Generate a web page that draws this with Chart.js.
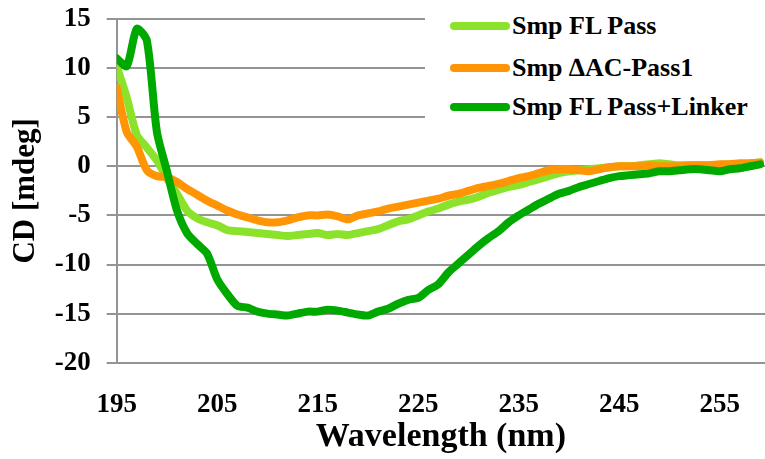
<!DOCTYPE html>
<html>
<head>
<meta charset="utf-8">
<script src="https://cdn.jsdelivr.net/npm/chart.js@4"></script>
<style>
  body { margin: 0; background: #fff; }
  #wrap { position: relative; width: 765px; height: 459px; }
  #legend { position: absolute; left: 425px; top: 6px; width: 340px; height: 120px; background: #fff; }
  .item { position: absolute; left: 25px; height: 30px; font-family: "Liberation Serif", "Times New Roman", Times, serif; font-weight: bold; font-size: 26px; color: #000; }
  .item span.sw { position: absolute; left: 0; top: 11px; width: 60px; height: 8px; border-radius: 4px; }
  .item span.lb { position: absolute; left: 62px; top: 0; line-height: 30px; white-space: nowrap; }
</style>
</head>
<body>
<div id="wrap">
  <canvas id="chart" width="765" height="459"></canvas>
  <div id="legend"></div>
</div>
<script>
// wavelength in nm, 1 nm steps
const wavelengths = [];
for (let w = 195; w <= 259; w++) wavelengths.push(w);

const seriesNames = ["Smp FL Pass", "Smp \u2206AC-Pass1", "Smp FL Pass+Linker"];
const seriesColors = ["#8be22a", "#ff9505", "#00a900"];

// CD signal in mdeg
const flPass = [
  10.2, 7.0, 3.2, 1.9, 0.6, -1.2, -2.8, -4.5, -5.3, -5.7,
  -6.0, -6.5, -6.6, -6.7, -6.8, -6.9, -7.0, -7.1, -7.0, -6.9,
  -6.8, -7.0, -6.9, -7.0, -6.8, -6.6, -6.4, -6.0, -5.6, -5.4,
  -5.0, -4.6, -4.3, -3.9, -3.6, -3.4, -3.1, -2.7, -2.4, -2.1,
  -1.9, -1.6, -1.3, -1.0, -0.7, -0.5, -0.4, -0.3, -0.2, -0.1,
  0.0, 0.0, 0.1, 0.2, 0.3, 0.2, 0.1, 0.1, 0.1, 0.1,
  0.1, 0.2, 0.2, 0.3, 0.4
];
const dacPass1 = [
  8.0, 3.5, 2.0, -0.4, -1.0, -1.1, -1.6, -2.3, -2.9, -3.5,
  -4.0, -4.5, -4.9, -5.2, -5.5, -5.7, -5.7, -5.5, -5.2, -5.0,
  -5.0, -4.9, -5.1, -5.4, -5.0, -4.8, -4.6, -4.3, -4.1, -3.9,
  -3.7, -3.5, -3.3, -3.0, -2.8, -2.5, -2.2, -2.0, -1.8, -1.5,
  -1.2, -1.0, -0.7, -0.4, -0.3, -0.3, -0.4, -0.5, -0.3, -0.1,
  0.0, 0.0, 0.0, 0.1, 0.0, 0.0, 0.0, 0.1, 0.1, 0.1,
  0.2, 0.2, 0.3, 0.3, 0.4
];
const flPassLinker = [
  11.0, 10.2, 14.0, 12.8, 3.5, -0.5, -4.5, -6.8, -7.9, -8.9,
  -11.5, -13.0, -14.2, -14.4, -14.8, -15.0, -15.1, -15.2, -15.0, -14.8,
  -14.8, -14.6, -14.7, -14.9, -15.1, -15.2, -14.8, -14.5, -14.0, -13.6,
  -13.4, -12.6, -12.0, -10.8, -9.9, -9.0, -8.1, -7.3, -6.6, -5.7,
  -5.0, -4.4, -3.8, -3.3, -2.8, -2.5, -2.1, -1.8, -1.5, -1.2,
  -1.0, -0.9, -0.8, -0.7, -0.5, -0.5, -0.4, -0.3, -0.3, -0.4,
  -0.5, -0.3, -0.2, 0.0, 0.2
];

const xTicks = [195, 205, 215, 225, 235, 245, 255];
const yTicks = [-20, -15, -10, -5, 0, 5, 10, 15];

const allSeries = [flPass, dacPass1, flPassLinker];
const font = "'Liberation Serif', 'Times New Roman', Times, serif";
const gridColor = "#949494";

let datasets = allSeries.map((vals, i) => ({
  label: seriesNames[i],
  data: vals.map((v, j) => ({ x: wavelengths[j], y: v })),
  borderColor: seriesColors[i],
  borderWidth: 8,
  pointRadius: 0,
  tension: 0.25,
  borderCapStyle: "round",
  borderJoinStyle: "round",
  fill: false,
  order: 3 - i  // linker on top
}));

let chart = new Chart(document.getElementById("chart"), {
  type: "line",
  data: { datasets: datasets },
  options: {
    responsive: false,
    animation: false,
    layout: { padding: { top: 19, right: 0, left: 0, bottom: 0 } },
    plugins: { legend: { display: false }, tooltip: { enabled: false } },
    scales: {
      x: {
        type: "linear",
        min: 195,
        max: 259.5,
        afterBuildTicks: (scale) => { scale.ticks = xTicks.map(v => ({ value: v })); },
        afterFit: (scale) => { scale.height = 96.3; scale.paddingLeft = 0; scale.paddingRight = 0; },
        grid: { display: false },
        border: { display: false },
        ticks: { color: "#000", font: { family: font, size: 27, weight: "bold" }, padding: 18, maxRotation: 0 },
        title: { display: true, text: "Wavelength (nm)", color: "#000", font: { family: font, size: 34, weight: "bold" }, padding: { top: 0, bottom: 1 } }
      },
      y: {
        min: -20,
        max: 15,
        afterBuildTicks: (scale) => { scale.ticks = yTicks.map(v => ({ value: v })); },
        afterFit: (scale) => { scale.width = 116.7; scale.paddingTop = 0; scale.paddingBottom = 0; },
        grid: { color: gridColor, lineWidth: 2, tickLength: 10 },
        border: { color: gridColor, width: 2 },
        ticks: { color: "#000", font: { family: font, size: 27, weight: "bold" }, padding: 16 },
        title: { display: true, text: "CD [mdeg]", color: "#000", font: { family: font, size: 31, weight: "bold" }, padding: { top: 7, bottom: 0 } }
      }
    }
  }
});

// Legend
const legendEl = document.getElementById("legend");
const legendY = [5, 47, 86];
seriesNames.forEach((name, i) => {
  let item = document.createElement("div");
  item.className = "item";
  item.style.top = legendY[i] + "px";
  item.innerHTML = `<span class="sw" style="background:${seriesColors[i]}"></span><span class="lb">${name}</span>`;
  legendEl.appendChild(item);
});
</script>
</body>
</html>
